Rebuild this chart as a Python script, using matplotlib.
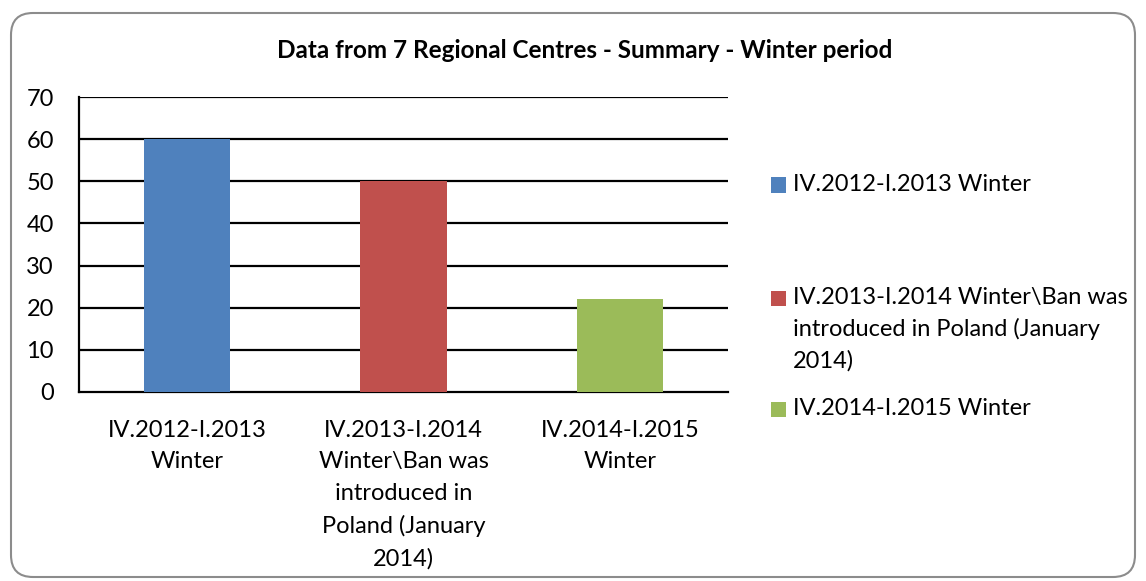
import numpy as np
import matplotlib.pyplot as plt
from matplotlib.patches import FancyBboxPatch, Rectangle

plt.rcParams['font.family'] = ['Lato', 'DejaVu Sans']

title = 'Data from 7 Regional Centres - Summary - Winter period'
categories = ['IV.2012-I.2013\nWinter',
              'IV.2013-I.2014\nWinter\\Ban was\nintroduced in\nPoland (January\n2014)',
              'IV.2014-I.2015\nWinter']
legend_labels = ['IV.2012-I.2013 Winter',
                 'IV.2013-I.2014 Winter\\Ban was\nintroduced in Poland (January\n2014)',
                 'IV.2014-I.2015 Winter']
values = [60, 50, 22]
colors = ['#4f81bd', '#c0504d', '#9bbb59']

W, H = 1146, 581
fs = 17
fig = plt.figure(figsize=(W / 100, H / 100), dpi=100)

# rounded chart border
border = FancyBboxPatch((11, 4), W - 22, H - 17, boxstyle='round,pad=0,rounding_size=22',
                        transform=None, fc='white', ec='#8c8c8c', lw=1.5, zorder=-5)
fig.patches.append(border)

ax = fig.add_axes([79 / W, 1 - 392 / H, (728 - 79) / W, (392 - 97) / H])
ax.set_zorder(2)
ax.set_facecolor('none')
x = np.arange(len(values))
ax.bar(x, values, width=0.40, color=colors, zorder=3)
ax.set_xlim(-0.5, 2.5)
ax.set_ylim(0, 70)
ax.set_yticks(range(0, 71, 10))
for v in range(10, 71, 10):
    ax.axhline(v, color='black', lw=1.6, zorder=2)
ax.set_xticks(x)
ax.set_xticklabels(categories, linespacing=1.62, fontsize=fs)
ax.tick_params(axis='both', length=0, labelsize=fs)
ax.tick_params(axis='y', pad=18)
ax.tick_params(axis='x', pad=20)
for s in ['top', 'right']:
    ax.spines[s].set_visible(False)
for s in ['left', 'bottom']:
    ax.spines[s].set_linewidth(1.6)
    ax.spines[s].set_color('black')

fig.text(585 / W, 1 - 50 / H, title, ha='center', va='center', fontsize=17.5, fontweight='bold')

# legend, drawn by hand to follow the uneven spacing
leg_y = [185, 298, 409]
for lab, c, yy in zip(legend_labels, colors, leg_y):
    fig.patches.append(Rectangle((771 / W, 1 - (yy + 7.5) / H), 15 / W, 15 / H,
                                 transform=fig.transFigure, fc=c, ec='none'))
    fig.text(793 / W, 1 - (yy - 11) / H, lab, ha='left', va='top', fontsize=fs,
             linespacing=1.55)

fig.savefig('out.png', dpi=100)
